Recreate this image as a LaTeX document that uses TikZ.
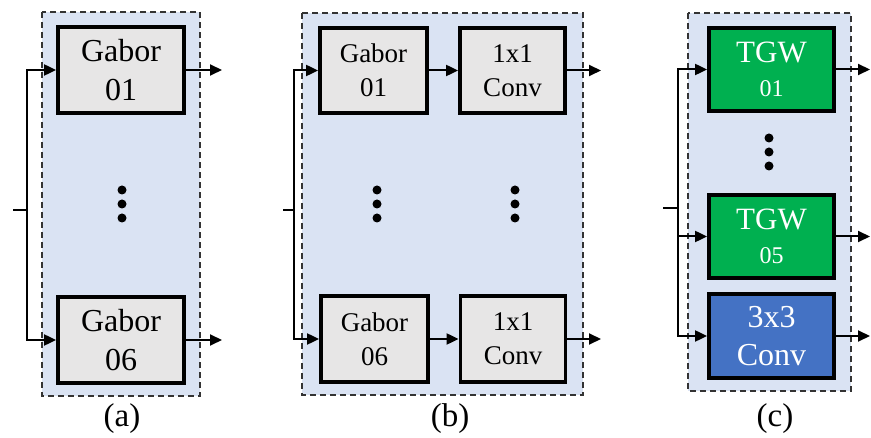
\documentclass[tikz,border=0pt]{standalone}
\usepackage{fontspec}
\setmainfont{Liberation Serif}
\usetikzlibrary{arrows.meta}
\definecolor{panelbg}{HTML}{DAE3F3}
\definecolor{boxgray}{HTML}{E7E6E6}
\definecolor{tgwgreen}{HTML}{00B050}
\definecolor{convblue}{HTML}{4472C4}
\tikzset{
  panel/.style={draw=black!80, fill=panelbg, dashed, dash pattern=on 6pt off 4pt, line width=1.6pt},
  blk/.style={draw=black, line width=3.8pt, align=center, inner sep=0pt},
  graybox/.style={blk, fill=boxgray},
  greenbox/.style={blk, fill=tgwgreen, text=white},
  bluebox/.style={blk, fill=convblue, text=white},
  arr/.style={line width=2pt, -{Triangle[length=12pt,width=11pt]}},
  ln/.style={line width=2pt},
  dotc/.style={circle, fill=black, inner sep=0pt, minimum size=9pt},
  lab/.style={font=\fontsize{33}{36}\selectfont}
}
\begin{document}
\begin{tikzpicture}[x=1pt,y=-1pt]
\useasboundingbox (0,0) rectangle (871,438);
% panels
\draw[panel] (42,12) rectangle (200,396);
\draw[panel] (302,13) rectangle (583,395);
\draw[panel] (688,13) rectangle (851,391);

% ---------- (a)
\begin{scope}[every node/.append style={font=\fontsize{32}{39}\selectfont}]
\node[graybox, minimum width=126pt, minimum height=86pt] (aG1) at (121,70) {Gabor\\01};
\node[graybox, minimum width=126pt, minimum height=86pt] (aG6) at (121,340) {Gabor\\06};
\end{scope}
\node[dotc] (ad1) at (122,190) {};
\node[dotc] (ad2) at (122,204) {};
\node[dotc] (ad3) at (122,218) {};
\coordinate (ain) at (13,210);
\coordinate (aj) at (27,210);
\coordinate (ao1) at (222,70);
\coordinate (ao6) at (222,340);
\draw[ln] (ain) -- (aj);
\draw[arr] (aj) |- (aG1);
\draw[arr] (aj) |- (aG6);
\draw[arr] (aG1) -- (ao1);
\draw[arr] (aG6) -- (ao6);
\node[lab] (la) at (122,419) {(a)};

% ---------- (b)
\begin{scope}[every node/.append style={font=\fontsize{27}{34}\selectfont}]
\node[graybox, minimum width=107pt, minimum height=85pt] (bG1) at (373.5,70.5) {Gabor\\01};
\node[graybox, minimum width=105pt, minimum height=85pt] (bC1) at (512.5,70.5) {1x1\\Conv};
\node[graybox, minimum width=107pt, minimum height=86pt] (bG6) at (374.5,339) {Gabor\\06};
\node[graybox, minimum width=105pt, minimum height=86pt] (bC6) at (513,339) {1x1\\Conv};
\end{scope}
\node[dotc] (bd1) at (377,190) {};
\node[dotc] (bd2) at (377,204) {};
\node[dotc] (bd3) at (377,218) {};
\node[dotc] (bd4) at (515,190) {};
\node[dotc] (bd5) at (515,204) {};
\node[dotc] (bd6) at (515,218) {};
\coordinate (bin) at (283,210);
\coordinate (bj) at (294,210);
\coordinate (bo1) at (601,70.5);
\coordinate (bo6) at (601,339);
\draw[ln] (bin) -- (bj);
\draw[arr] (bj) |- (bG1);
\draw[arr] (bj) |- (bG6);
\draw[arr] (bG1) -- (bC1);
\draw[arr] (bG6) -- (bC6);
\draw[arr] (bC1) -- (bo1);
\draw[arr] (bC6) -- (bo6);
\node[lab] (lb) at (450,419) {(b)};

% ---------- (c)
\node[greenbox, minimum width=125pt, minimum height=83pt, font=\fontsize{31}{34}\selectfont] (cT1) at (771.5,69.5)
  {TGW\\\fontsize{24}{34}\selectfont 01};
\node[greenbox, minimum width=125pt, minimum height=83pt, font=\fontsize{31}{34}\selectfont] (cT5) at (771.5,236.5)
  {TGW\\\fontsize{24}{34}\selectfont 05};
\node[bluebox, minimum width=125pt, minimum height=84pt, font=\fontsize{32}{38}\selectfont] (cC) at (771.5,336) {3x3\\Conv};
\node[dotc] (cd1) at (769,138) {};
\node[dotc] (cd2) at (769,152) {};
\node[dotc] (cd3) at (769,166) {};
\coordinate (cin) at (663,208);
\coordinate (cj) at (678,208);
\coordinate (co1) at (870,69.5);
\coordinate (co5) at (870,236.5);
\coordinate (co3) at (870,336);
\draw[ln] (cin) -- (cj);
\draw[arr] (cj) |- (cT1);
\draw[arr] (cj) |- (cT5);
\draw[arr] (cj) |- (cC);
\draw[arr] (cT1) -- (co1);
\draw[arr] (cT5) -- (co5);
\draw[arr] (cC) -- (co3);
\node[lab] (lc) at (775,419) {(c)};
\end{tikzpicture}
\end{document}
